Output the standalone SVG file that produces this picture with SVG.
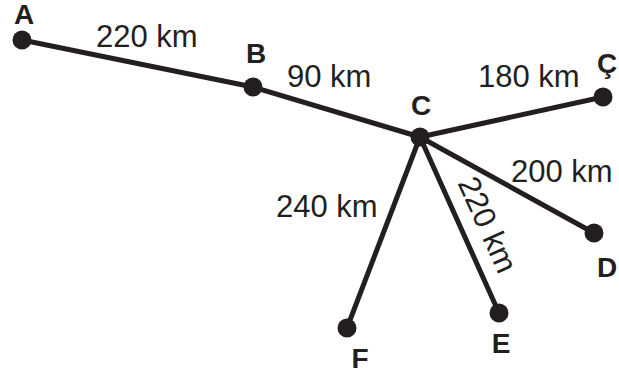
<svg xmlns="http://www.w3.org/2000/svg" width="619" height="377" viewBox="0 0 619 377">
<style>
.edge{stroke:#231f20;stroke-width:5;stroke-linecap:round;fill:none}
.dot{fill:#231f20}
.lbl{font-family:"Liberation Sans",Arial,sans-serif;font-weight:bold;font-size:28px;fill:#231f20;text-anchor:middle}
.dist{font-family:"Liberation Sans",Arial,sans-serif;font-size:31px;fill:#231f20}
</style>
<rect width="619" height="377" fill="#fff"/>
<g id="connectors">
<line class="edge" x1="22" y1="40" x2="253" y2="87"/>
<line class="edge" x1="253" y1="87" x2="420" y2="137"/>
<line class="edge" x1="420" y1="137" x2="603" y2="97"/>
<line class="edge" x1="420" y1="137" x2="594" y2="233"/>
<line class="edge" x1="420" y1="137" x2="499" y2="313"/>
<line class="edge" x1="420" y1="137" x2="347" y2="328"/>
<text class="dist" x="96" y="47">220 km</text>
<text class="dist" x="287" y="87">90 km</text>
<text class="dist" x="478" y="87">180 km</text>
<text class="dist" x="511" y="182">200 km</text>
<text class="dist" x="276" y="217">240 km</text>
<text class="dist" text-anchor="middle" transform="translate(478,229) rotate(65.8)">220 km</text>
</g>
<g id="A"><circle class="dot" cx="22" cy="40" r="9.5"/><text class="lbl" x="24" y="24">A</text></g>
<g id="B"><circle class="dot" cx="253" cy="87" r="9.5"/><text class="lbl" x="256" y="63">B</text></g>
<g id="C"><circle class="dot" cx="420" cy="137" r="9.5"/><text class="lbl" x="421" y="115">C</text></g>
<g id="Ccedil"><circle class="dot" cx="603" cy="97" r="9.5"/><text class="lbl" x="607" y="73">Ç</text></g>
<g id="D"><circle class="dot" cx="594" cy="233" r="9.5"/><text class="lbl" x="607" y="277">D</text></g>
<g id="E"><circle class="dot" cx="499" cy="313" r="9.5"/><text class="lbl" x="501" y="353">E</text></g>
<g id="F"><circle class="dot" cx="347" cy="328" r="9.5"/><text class="lbl" x="360" y="368">F</text></g>
</svg>
